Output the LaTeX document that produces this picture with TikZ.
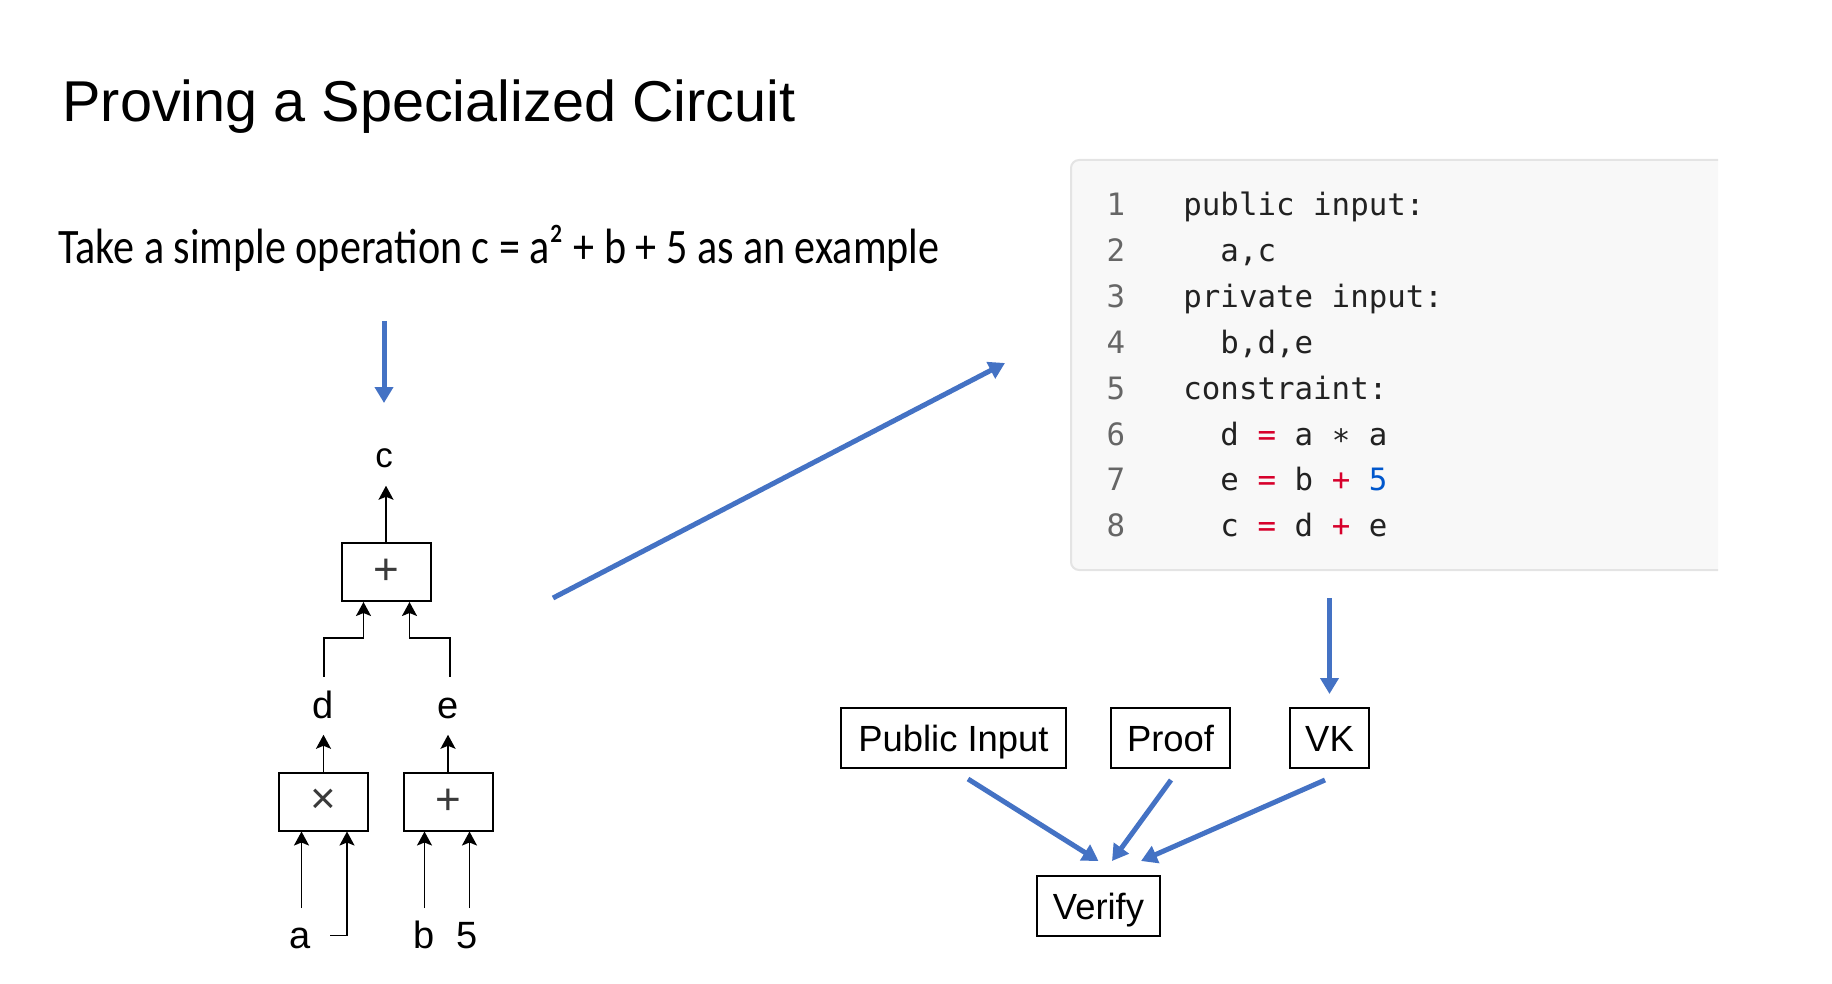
\documentclass[tikz,border=0pt]{standalone}
\usepackage{fontspec}
\usepackage{graphicx}
\setmainfont{Liberation Sans}
\newfontfamily\subfont{Carlito}
\newfontfamily\codefont{DejaVu Sans Mono}
\usetikzlibrary{arrows.meta,calc}
\definecolor{flowblue}{HTML}{4472C4}
\definecolor{codebg}{HTML}{F8F8F8}
\definecolor{codeborder}{HTML}{E4E4E4}
\definecolor{codenum}{HTML}{666666}
\definecolor{codetext}{HTML}{222222}
\definecolor{codered}{HTML}{D7002B}
\definecolor{codeblue}{HTML}{0057CC}
\definecolor{gatesym}{HTML}{3A3A3A}
\newcommand\msp{\hphantom{x}}
\tikzset{
 gate/.style={draw=black, line width=1pt, minimum width=44.5pt, minimum height=29pt, inner sep=0pt, text=gatesym, font=\fontsize{22}{22}\selectfont},
 wire/.style={draw=black, line width=0.9pt},
 wirearrow/.style={wire, -{Stealth[length=7pt,width=7.5pt,inset=1.5pt]}},
 wlabel/.style={inner sep=0pt, anchor=base, font=\fontsize{19}{19}\selectfont},
 flowbox/.style={draw=black, line width=1pt, inner sep=0pt, minimum height=30pt, text height=13.1pt, text depth=0pt, font=\fontsize{18.2}{18.2}\selectfont},
 flowarrow/.style={draw=flowblue, line width=2.5pt, -{Triangle[length=8pt,width=9pt]}},
 lnum/.style={inner sep=0pt, anchor=base, text=codenum, font=\codefont\fontsize{15.4}{15.4}\selectfont},
 lcode/.style={inner sep=0pt, anchor=base west, text=codetext, font=\codefont\fontsize{15.4}{15.4}\selectfont},
}
\begin{document}
\begin{tikzpicture}[x=0.5pt,y=-0.5pt]
\useasboundingbox (0,0) rectangle (1832,984);
% title and subtitle
\node[anchor=base west, inner sep=0pt, font=\fontsize{28.8}{34}\selectfont] (title) at (62,122) {Proving a Specialized Circuit};
\node[anchor=base west, inner sep=0pt, font=\subfont\fontsize{24.8}{30}\selectfont] (sub) at (58,264) {\scalebox{0.849}[1]{Take a simple operation c = a² + b + 5 as an example}};
% code box
\path[fill=codebg, draw=codeborder, line width=1pt, rounded corners=4pt] (1718,160) -- (1071,160) -- (1071,570) -- (1718,570);
\coordinate (codebottom) at (1329.5,570);
\node[lnum] (n1) at (1116,215.5) {1};
\node[lnum] (n2) at (1116,261.4) {2};
\node[lnum] (n3) at (1116,307.3) {3};
\node[lnum] (n4) at (1116,353.2) {4};
\node[lnum] (n5) at (1116,399.1) {5};
\node[lnum] (n6) at (1116,445.0) {6};
\node[lnum] (n7) at (1116,490.9) {7};
\node[lnum] (n8) at (1116,536.8) {8};
\node[lcode] (l1) at (1183,215.5) {public\msp input:};
\node[lcode] (l2) at (1183,261.4) {\msp\msp a,c};
\node[lcode] (l3) at (1183,307.3) {private\msp input:};
\node[lcode] (l4) at (1183,353.2) {\msp\msp b,d,e};
\node[lcode] (l5) at (1183,399.1) {constraint:};
\node[lcode] (l6) at (1183,445.0) {\msp\msp d\msp\textcolor{codered}{=}\msp a\msp\raisebox{-0.22em}{*}\msp a};
\node[lcode] (l7) at (1183,490.9) {\msp\msp e\msp\textcolor{codered}{=}\msp b\msp\textcolor{codered}{+}\msp\textcolor{codeblue}{5}};
\node[lcode] (l8) at (1183,536.8) {\msp\msp c\msp\textcolor{codered}{=}\msp d\msp\textcolor{codered}{+}\msp e};
% circuit
\node[gate] (top) at (386,572) {+};
\node[gate] (mul) at (323.5,801.5) {×};
\node[gate] (add) at (448,801.5) {+};
\node[wlabel, font=\fontsize{17.5}{17.5}\selectfont] (c) at (384,467) {c};
\node[wlabel] (d) at (323,718) {d};
\node[wlabel] (e) at (448.5,718) {e};
\node[wlabel] (a) at (300,948.5) {a};
\node[wlabel] (b) at (424,948.5) {b};
\node[wlabel] (five) at (467,948.5) {5};
\draw[wirearrow] (top.north) -- ($(top.north |- c.south)+(0,18)$);
\draw[wirearrow] ($(d.south)+(1,-42)$) |- ($(top.south)+(-22.5,36)$) -- ($(top.south)+(-22.5,0)$);
\draw[wirearrow] ($(e.south)+(1.5,-42)$) |- ($(top.south)+(23.5,36)$) -- ($(top.south)+(23.5,0)$);
\draw[wirearrow] (mul.north) -- ($(mul.north |- d.south)+(0,16)$);
\draw[wirearrow] (add.north) -- ($(add.north |- e.south)+(0,16)$);
\draw[wirearrow] ($(mul.south)+(-22,76.5)$) -- ($(mul.south)+(-22,0)$);
\coordinate (aw) at (330,935.5);
\draw[wirearrow] (aw) -| ($(mul.south)+(23.5,0)$);
\draw[wirearrow] ($(add.south)+(-23.5,76.5)$) -- ($(add.south)+(-23.5,0)$);
\draw[wirearrow] ($(add.south)+(21.5,76.5)$) -- ($(add.south)+(21.5,0)$);
% flow
\node[flowbox, minimum width=112.5pt] (pub) at (953.5,738) {Public Input};
\node[flowbox, minimum width=59.5pt] (proof) at (1170.5,738) {Proof};
\node[flowbox, minimum width=39.5pt] (vk) at (1329.5,738) {VK};
\node[flowbox, minimum width=61.5pt] (verify) at (1098.5,906) {Verify};
\coordinate (s1) at (384,321);
\coordinate (t1) at (384,403);
\coordinate (s2) at (553,598);
\coordinate (t2) at (1005,363);
\draw[flowarrow] (s1) -- (t1);
\draw[flowarrow] (s2) -- (t2);
\draw[flowarrow] ($(codebottom)+(0,28)$) -- ($(vk.north)+(0,-13)$);
\draw[flowarrow] ($(pub.south)+(14.5,10)$) -- ($(verify.north)+(0,-14)$);
\draw[flowarrow] ($(proof.south)+(0.5,11)$) -- ($(verify.north)+(13.5,-14)$);
\draw[flowarrow] ($(vk.south)+(-4.5,11)$) -- ($(verify.north)+(42.5,-14)$);
\end{tikzpicture}
\end{document}
